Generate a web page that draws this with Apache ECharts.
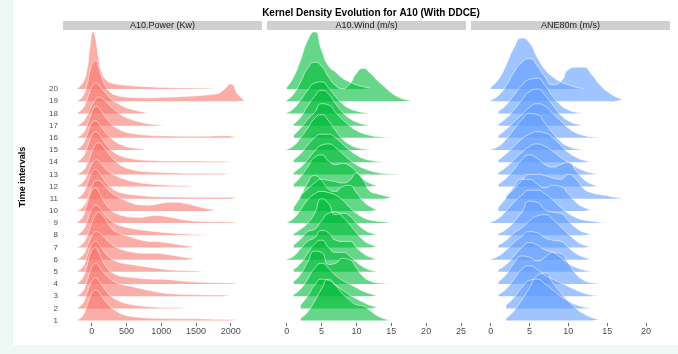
<!DOCTYPE html>
<html><head><meta charset="utf-8">
<script src="https://cdn.jsdelivr.net/npm/echarts@6/dist/echarts.min.js"></script>
<style>html,body{margin:0;padding:0;background:#eef9f5}#c{width:678px;height:354px}</style>
</head><body><div id="c"></div><script>
// ---- data ----
const panels = ['A10.Power (Kw)', 'A10.Wind (m/s)', 'ANE80m (m/s)'];
const rowLabels = [1,2,3,4,5,6,7,8,9,10,11,12,13,14,15,16,17,18,19,20];
const powerTicks = [0,500,1000,1500,2000];
const windTicks = [0,5,10,15,20,25];
const aneTicks = [0,5,10,15,20];
const powerX = [-280,-200,-130,-70,-20,20,60,100,150,210,280,360,450,560,680,800,930,1060,1200,1350,1500,1650,1800,1900,2000,2100,2200];
const speedX = [0,1,2,3,4,5,6,7,8,9,10,11,12,13,14,15,16,17,18];
// density heights (in row spacings), row 1 first
const powerH = [
 [null,0.08,0.4,1.2,2.0,2.4,2.5,2.35,1.95,1.5,1.1,0.75,0.5,0.35,0.27,0.21,0.18,0.16,0.15,0.15,0.15,0.12,0.1,0.09,0.08,0.06],
 [null,0.08,0.4,1.2,2.0,2.4,2.5,2.3,1.9,1.4,1.0,0.7,0.48,0.32,0.22,0.15,0.1,0.07,0.05,0.04],
 [null,0.08,0.4,1.2,2.1,2.6,2.7,2.5,2.1,1.7,1.35,1.1,0.95,0.82,0.65,0.5,0.35,0.25,0.18,0.14,0.12,0.1,0.09,0.08,0.05],
 [null,0.1,0.5,1.5,2.5,2.9,3.0,2.6,2.0,1.4,1.0,0.75,0.62,0.55,0.48,0.42,0.39,0.38,0.3,0.22,0.16,0.12,0.1,0.09,0.08,0.05],
 [null,0.08,0.4,1.2,2.0,2.4,2.5,2.3,1.9,1.45,1.1,0.85,0.7,0.6,0.5,0.4,0.29,0.2,0.14,0.1,0.07,0.04],
 [null,0.08,0.35,1.0,1.7,2.1,2.3,2.25,2.0,1.65,1.3,1.0,0.8,0.65,0.55,0.52,0.52,0.45,0.32,0.18,0.08],
 [null,0.05,0.3,0.9,1.7,2.3,2.7,2.9,2.7,2.2,1.6,1.25,1.05,0.85,0.65,0.52,0.48,0.4,0.28,0.15,0.06],
 [null,0.08,0.4,1.1,1.9,2.35,2.5,2.35,2.0,1.55,1.2,0.9,0.72,0.58,0.47,0.38,0.3,0.22,0.15,0.1,0.06,0.03],
 [null,0.1,0.5,1.5,2.4,2.8,2.9,2.6,2.05,1.5,1.05,0.78,0.6,0.5,0.47,0.55,0.62,0.55,0.4,0.25,0.15,0.12,0.1,0.1,0.09,0.07],
 [null,0.05,0.3,0.9,1.7,2.2,2.5,2.5,2.3,1.9,1.5,1.2,0.95,0.68,0.5,0.47,0.55,0.68,0.71,0.6,0.4,0.2,0.08],
 [null,0.08,0.4,1.1,1.9,2.3,2.4,2.2,1.8,1.3,0.9,0.62,0.45,0.35,0.27,0.21,0.17,0.15,0.14,0.13,0.12,0.12,0.12,0.13,0.12,0.08],
 [null,0.08,0.35,0.9,1.6,2.0,2.2,2.1,1.8,1.4,1.1,0.85,0.65,0.45,0.32,0.23,0.16,0.12,0.09,0.07,0.05],
 [null,0.05,0.3,0.8,1.5,2.1,2.5,2.6,2.4,1.95,1.45,1.0,0.65,0.42,0.28,0.21,0.17,0.14,0.12,0.1,0.09,0.08,0.07,0.06,0.05],
 [null,0.08,0.4,1.1,1.9,2.35,2.5,2.35,1.95,1.45,1.0,0.68,0.45,0.3,0.2,0.15,0.12,0.1,0.1,0.09,0.09,0.08,0.08,0.07,0.06],
 [null,0.1,0.45,1.2,2.0,2.35,2.4,2.2,1.8,1.35,0.95,0.62,0.38,0.2,0.1,0.04],
 [null,0.08,0.35,1.0,1.8,2.35,2.6,2.5,2.1,1.6,1.15,0.8,0.55,0.38,0.27,0.21,0.17,0.15,0.14,0.13,0.13,0.14,0.16,0.18,0.14,0.08],
 [null,0.05,0.3,0.8,1.4,1.85,2.2,2.35,2.25,1.95,1.55,1.15,0.8,0.52,0.32,0.17,0.08,0.03],
 [null,0.1,0.4,1.1,1.9,2.35,2.5,2.35,2.0,1.6,1.2,0.88,0.6,0.36,0.19,0.08],
 [null,0.08,0.4,1.3,2.6,3.2,3.35,2.8,1.9,1.15,0.7,0.48,0.38,0.32,0.29,0.28,0.3,0.33,0.36,0.4,0.45,0.52,0.62,0.95,1.42,0.6,0.05],
 [null,0.1,0.5,1.5,3.7,4.7,4.0,2.5,1.3,0.75,0.52,0.41,0.33,0.27,0.22,0.2,0.16,0.13,0.1,0.09,0.08,0.08,0.07]
];
const windH = [
 [null,null,0.2,0.7,1.6,2.6,3.4,2.9,2.2,1.7,1.3,1.2,0.8,0.4,0.15,0.05],
 [null,null,0.3,1.0,1.9,2.4,2.3,1.9,1.5,1.1,0.8,0.5,0.25,0.1],
 [null,0.15,0.6,1.4,2.3,2.7,2.3,1.7,1.3,1.0,0.7,0.4,0.2,0.08],
 [null,0.2,0.8,1.8,2.7,2.6,1.6,1.7,2.1,2.0,1.3,0.6,0.25,0.1,0.05,0.03],
 [null,0.2,0.7,1.5,2.3,2.6,2.0,1.6,1.6,1.3,0.8,0.4,0.15,0.05],
 [0.05,0.3,0.9,1.5,1.8,2.4,2.2,1.6,1.5,1.5,1.0,0.5,0.2,0.06],
 [null,0.2,0.7,1.3,1.5,2.2,2.8,2.9,2.5,1.9,1.2,0.6,0.25,0.08],
 [null,0.15,0.5,1.0,1.8,3.0,2.6,1.7,1.8,1.6,1.0,0.5,0.2,0.06],
 [0.05,0.4,1.1,1.9,2.4,2.6,2.5,2.3,1.9,1.3,0.8,0.45,0.25,0.15,0.1,0.05],
 [null,0.3,1.2,2.3,2.9,2.5,1.8,1.6,2.0,2.1,1.5,0.8,0.35,0.1],
 [null,null,0.3,0.8,1.3,1.6,1.5,1.4,1.3,1.5,2.1,1.5,0.6,0.4,0.25,0.1],
 [null,0.2,0.8,1.6,2.4,2.6,2.1,1.8,1.9,1.7,1.2,0.6,0.25,0.08],
 [null,0.15,0.6,1.2,1.9,2.4,2.5,2.2,1.7,1.2,0.8,0.5,0.3,0.15,0.07,0.03,0.02],
 [null,0.2,0.7,1.4,2.0,2.3,2.3,2.0,1.5,1.0,0.6,0.3,0.15,0.06,0.02],
 [0.05,0.35,1.0,1.8,2.6,2.9,2.4,1.6,0.9,0.45,0.2,0.08,0.03],
 [null,0.2,0.8,1.5,2.1,2.8,2.7,2.1,1.5,1.0,0.6,0.35,0.2,0.1,0.05,0.02],
 [null,0.15,0.7,1.6,2.4,2.9,2.6,1.8,1.1,0.6,0.3,0.12,0.04],
 [0.05,0.4,1.1,1.9,2.5,2.6,2.1,1.4,0.8,0.4,0.2,0.08,0.02],
 [0.1,0.6,1.6,2.7,3.2,2.9,2.0,1.3,1.05,1.4,2.3,2.7,2.3,1.7,1.2,0.7,0.35,0.15,0.05],
 [0.15,1.0,2.4,4.0,4.7,3.2,1.9,1.4,0.9,0.6,0.35,0.2,0.08]
];
const aneH = [
 [null,null,0.2,0.8,1.7,2.7,3.7,3.9,3.1,2.3,1.6,1.0,0.55,0.25,0.08],
 [null,null,0.3,0.9,1.7,2.3,2.4,2.0,1.5,1.0,0.6,0.3,0.12,0.04],
 [null,0.15,0.6,1.4,2.2,2.5,2.2,1.7,1.4,1.1,0.8,0.5,0.25,0.1,0.03],
 [null,0.2,0.8,1.7,2.3,2.2,1.9,2.2,2.6,2.5,1.7,0.8,0.3,0.1,0.05],
 [null,0.2,0.6,1.3,2.0,2.4,2.2,1.8,1.6,1.2,0.7,0.35,0.15,0.05],
 [0.05,0.3,0.8,1.4,1.9,2.3,2.2,1.8,1.6,1.5,1.0,0.5,0.2,0.06],
 [null,0.2,0.6,1.2,1.6,2.2,2.6,2.7,2.3,1.7,1.1,0.55,0.2,0.06],
 [null,0.15,0.5,1.1,1.9,2.8,2.7,2.1,1.9,1.8,1.2,0.6,0.25,0.08],
 [0.08,0.4,1.0,1.7,2.3,2.7,2.7,2.4,1.9,1.3,0.8,0.45,0.25,0.15,0.08,0.03],
 [null,0.3,1.1,2.0,2.6,2.6,2.2,1.9,2.1,2.0,1.4,0.7,0.3,0.1],
 [null,null,0.3,0.8,1.5,2.0,2.0,1.9,1.7,1.6,2.0,1.6,0.8,0.5,0.35,0.25,0.12,0.05],
 [null,0.2,0.7,1.4,2.2,2.6,2.3,1.8,1.6,1.8,2.0,1.3,0.6,0.2,0.05],
 [null,0.15,0.6,1.2,1.8,2.3,2.5,2.3,1.9,1.4,1.0,0.6,0.3,0.12,0.05],
 [null,0.2,0.7,1.3,1.9,2.3,2.5,2.4,2.0,1.4,0.8,0.4,0.15,0.05],
 [0.05,0.3,0.9,1.7,2.5,3.0,2.9,2.2,1.4,0.7,0.3,0.1,0.03],
 [null,0.2,0.7,1.3,1.9,2.5,2.8,2.6,2.0,1.4,0.8,0.4,0.2,0.08,0.03],
 [null,0.15,0.6,1.3,2.1,2.8,3.0,2.5,1.7,0.9,0.4,0.15,0.05],
 [null,0.2,0.7,1.5,2.3,2.8,2.9,2.3,1.4,0.7,0.3,0.1,0.03],
 [0.08,0.5,1.3,2.4,3.2,3.5,2.9,2.0,1.35,1.6,2.6,2.8,2.8,2.2,1.4,0.8,0.4,0.15],
 [0.15,0.8,2.0,3.4,4.2,3.8,2.6,1.6,1.0,0.6,0.35,0.15,0.05]
];
// ---- layout ----
const FONT = 'Liberation Sans, Arial, sans-serif';
const lefts = [63, 267, 471];
const PW = 199, TOP = 31, PH = 292;
const xRanges = [[-413, 2450], [-2.83, 25.72], [-2.54, 23.09]];
const ticks = [powerTicks, windTicks, aneTicks];
const fills = ['rgba(248,118,109,0.6)', 'rgba(0,186,56,0.6)', 'rgba(97,156,255,0.6)'];

const grids = lefts.map(l => ({left: l, top: TOP, width: PW, height: PH}));
const xAxes = lefts.map((l, i) => ({
  type: 'value', gridIndex: i, min: xRanges[i][0], max: xRanges[i][1],
  axisLine: {show: false}, splitLine: {show: false},
  axisTick: {show: true, customValues: ticks[i], length: 3, lineStyle: {color: '#444', width: 0.8}},
  axisLabel: {customValues: ticks[i], color: '#4d4d4d', fontSize: 9, margin: 4, fontFamily: FONT,
    formatter: v => String(v)}
}));
const yAxes = lefts.map((l, i) => ({
  type: 'value', gridIndex: i, min: 0.8, max: 24.77,
  axisLine: {show: false}, splitLine: {show: false}, axisTick: {show: false},
  axisLabel: {show: i === 0, customValues: rowLabels, color: '#4d4d4d', fontSize: 8, margin: 5, fontFamily: FONT},
  name: i === 0 ? 'Time intervals' : '', nameLocation: 'middle', nameRotate: 90, nameGap: 36,
  nameTextStyle: {fontSize: 9, fontWeight: 'bold', color: '#000', fontFamily: FONT}
}));
const series = [];
function addRidges(p, xs, H) {
  for (let r = 20; r >= 1; r--) {
    const h = H[r - 1];
    series.push({
      type: 'line', xAxisIndex: p, yAxisIndex: p, smooth: 0.6,
      symbol: 'none', silent: true, animation: false,
      data: xs.map((x, k) => (h[k] == null ? [x, '-'] : [x, r + h[k]])),
      lineStyle: {color: 'rgba(255,255,255,0.8)', width: 0.7},
      areaStyle: {color: fills[p], opacity: 1, origin: r}
    });
  }
}
addRidges(0, powerX, powerH);
addRidges(1, speedX, windH);
addRidges(2, speedX, aneH);

const graphic = [{type: 'rect', shape: {x: 13, y: 0, width: 665, height: 345}, style: {fill: '#fff'}, z: -10}];
lefts.forEach((l, i) => {
  graphic.push({type: 'rect', shape: {x: l, y: 21, width: PW, height: 9}, style: {fill: '#d0d0d0'}, z: -5});
  graphic.push({type: 'text', x: l + PW / 2, y: 25.5, style: {text: panels[i], fill: '#1a1a1a', font: '9px ' + FONT, align: 'center', verticalAlign: 'middle'}, z: 5});
});

const chart = echarts.init(document.getElementById('c'), null, {renderer: 'canvas'});
chart.setOption({
  backgroundColor: '#eef9f5',
  animation: false,
  title: {text: 'Kernel Density Evolution for A10 (With DDCE)', left: 366, top: 3, textAlign: 'center',
    textStyle: {fontSize: 10, fontWeight: 'bold', color: '#000', fontFamily: FONT}},
  graphic: graphic,
  grid: grids, xAxis: xAxes, yAxis: yAxes, series: series
});
</script></body></html>
